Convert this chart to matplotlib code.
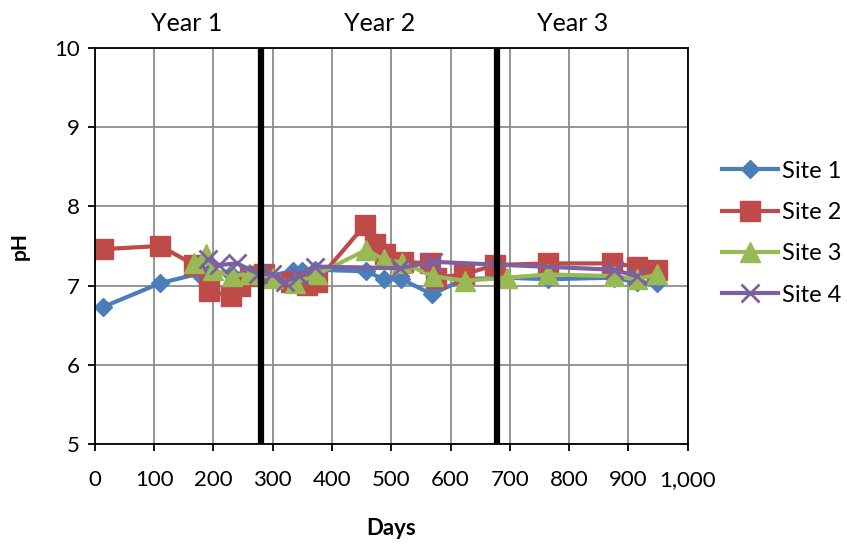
import numpy as np
import matplotlib
matplotlib.use("Agg")
import matplotlib.pyplot as plt
import matplotlib.transforms as mtransforms
from matplotlib.ticker import FuncFormatter

plt.rcParams['font.family'] = ['Lato', 'DejaVu Sans']

# Site 1
dias_1 = [14, 110, 175, 195, 230, 260, 290, 334, 349, 371, 458, 487, 517, 569, 622, 690, 765, 875, 914, 948]
ph_1 = [6.73, 7.03, 7.15, 7.18, 7.15, 7.15, 7.12, 7.18, 7.18, 7.20, 7.18, 7.08, 7.08, 6.89, 7.08, 7.10, 7.08, 7.10, 7.04, 7.03]

# Site 2
dias_2 = [14, 110, 168, 192, 230, 245, 262, 285, 330, 357, 374, 456, 472, 490, 520, 565, 575, 622, 675, 765, 872, 914, 948]
ph_2 = [7.46, 7.50, 7.26, 6.93, 6.87, 6.99, 7.12, 7.14, 7.05, 7.01, 7.05, 7.77, 7.52, 7.40, 7.30, 7.28, 7.10, 7.14, 7.26, 7.28, 7.28, 7.24, 7.20]

# Site 3
dias_3 = [168, 188, 200, 231, 260, 300, 337, 374, 458, 487, 518, 570, 624, 695, 765, 875, 914, 948]
ph_3 = [7.28, 7.40, 7.20, 7.12, 7.15, 7.10, 7.03, 7.14, 7.45, 7.33, 7.29, 7.12, 7.06, 7.10, 7.14, 7.12, 7.08, 7.14]

# Site 4
dias_4 = [190, 210, 240, 275, 298, 321, 345, 371, 515, 570, 875, 914]
ph_4 = [7.33, 7.26, 7.28, 7.15, 7.14, 7.05, 7.12, 7.24, 7.22, 7.30, 7.20, 7.12]

cortes = [280, 678]          # limites entre anios
anios = ["Year 1", "Year 2", "Year 3"]
pos_anios = [155, 481, 805]

fig = plt.figure(figsize=(8.47, 5.46), dpi=100)
ax = fig.add_axes([0.112, 0.187, 0.700, 0.725])

ax.plot(dias_1, ph_1, color='#4A7EBB', lw=3, marker='D', ms=9.5, label='Site 1')
ax.plot(dias_2, ph_2, color='#BE4B48', lw=3, marker='s', ms=14, label='Site 2')
ax.plot(dias_3, ph_3, color='#98B954', lw=3, marker='^', ms=14, label='Site 3')
ax.plot(dias_4, ph_4, color='#7D60A0', lw=3, marker='x', ms=13, mew=2, label='Site 4')

for c in cortes:
    ax.axvline(c, color='black', lw=4.5, zorder=5)

ax.set_xlim(0, 1000)
ax.set_ylim(5, 10)
ax.set_xticks(np.arange(0, 1001, 100))
ax.set_yticks(np.arange(5, 11, 1))
ax.xaxis.set_major_formatter(FuncFormatter(lambda v, p: f"{int(v):,}"))
ax.grid(True, color='#8C8C8C', lw=1.3)
ax.set_axisbelow(True)
for s in ax.spines.values():
    s.set_color('black')
    s.set_linewidth(1.3)
ax.tick_params(axis='x', direction='out', length=5, width=1.3, pad=14, labelsize=16)
ax.tick_params(axis='y', direction='out', length=5, width=1.3, pad=6, labelsize=16)

ax.set_xlabel("Days", fontsize=16, fontweight='bold', labelpad=20)
ax.set_ylabel("pH", fontsize=15, fontweight='bold', labelpad=17)

trans = mtransforms.blended_transform_factory(ax.transData, ax.transAxes)
for txt, x in zip(anios, pos_anios):
    ax.text(x, 1.062, txt, transform=trans, ha='center', va='center', fontsize=18)

fig.legend(loc='center left', bbox_to_anchor=(0.841, 0.573), frameon=False,
           fontsize=17, handlelength=2.4, labelspacing=0.86, handletextpad=0.17,
           borderaxespad=0)

fig.savefig("out.png", dpi=100)
